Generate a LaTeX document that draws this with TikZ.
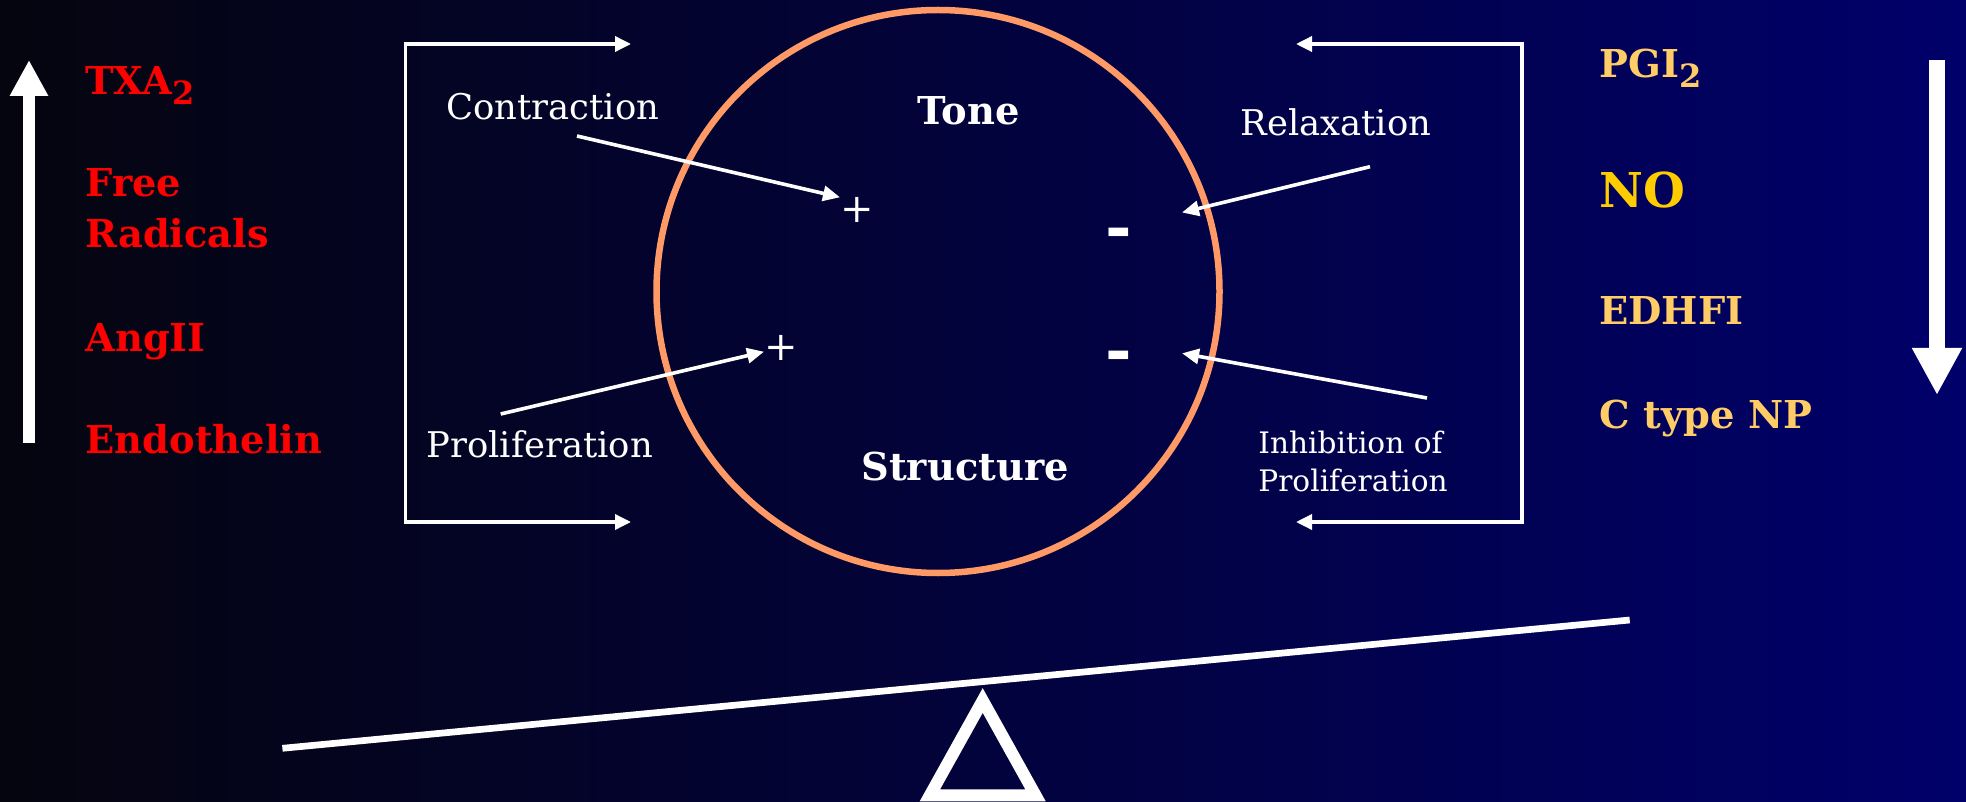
\documentclass[tikz,border=0pt]{standalone}
\usepackage{fontspec}
\setmainfont{DejaVu Serif}
\usetikzlibrary{arrows.meta}
\definecolor{Ink}{HTML}{05050F}
\definecolor{Navy}{HTML}{00006A}
\definecolor{Salmon}{HTML}{FF9966}
\definecolor{Sand}{HTML}{FFCC66}
\definecolor{Amber}{HTML}{FFCC00}
\definecolor{Scarlet}{HTML}{FF0000}
\newcommand{\lowsub}[1]{\raisebox{-5pt}{\fontsize{16pt}{16pt}\selectfont #1}}

\begin{document}
\begin{tikzpicture}[x=0.5pt, y=-0.5pt,
    agent/.style={anchor=base west, inner sep=0pt, align=left, font=\bfseries\fontsize{19.2pt}{25.5pt}\selectfont},
    effect/.style={anchor=base west, inner sep=0pt, text=white, font=\fontsize{17.7pt}{21pt}\selectfont},
    sign/.style={inner sep=0pt, text=white},
    pointer/.style={white, line width=1.8pt, -{Triangle[length=8.5pt,width=7.5pt]}},
    loop/.style={white, line width=1.75pt, {Triangle[length=8pt,width=7.5pt]}-{Triangle[length=8pt,width=7.5pt]}}]
  \shade[left color=Ink, right color=Navy] (0,0) rectangle (1966,802);
  \useasboundingbox (0,0) rectangle (1966,802);

  % left: vasoconstrictors
  \coordinate (upbot) at (29,443);
  \coordinate (uptop) at (29,60);
  \draw[white, line width=6pt, -{Triangle[length=18pt,width=18pt]}] (upbot) -- (uptop);
  \node[agent, text=Scarlet] (txa) at (85,95) {TXA\lowsub{2}};
  \node[agent, text=Scarlet] (frad) at (85,248) {Free\\Radicals};
  \node[agent, text=Scarlet] (ang) at (85,351) {AngII};
  \node[agent, text=Scarlet] (endo) at (85,453) {Endothelin};

  % right: vasodilators
  \coordinate (dntop) at (1937,60);
  \coordinate (dnbot) at (1937,395);
  \draw[white, line width=7.8pt, -{Triangle[length=23.5pt,width=23.5pt]}] (dntop) -- (dnbot);
  \node[agent, text=Sand] (pgi) at (1599,78) {PGI\lowsub{2}};
  \node[agent, text=Amber, font=\bfseries\fontsize{24pt}{28pt}\selectfont] (no) at (1599,208) {NO};
  \node[agent, text=Sand] (edhf) at (1599,325) {EDHFI};
  \node[agent, text=Sand] (cnp) at (1599,429) {C type NP};

  % vessel wall
  \draw[Salmon, line width=3.25pt] (938,291.5) circle[radius=140.75pt];
  \node[agent, text=white] (tone) at (917,125) {Tone};
  \node[agent, text=white] (struct) at (861,480) {Structure};
  \node[sign, font=\fontsize{20pt}{20pt}\selectfont] (plusA) at (857,210) {+};
  \node[sign, font=\fontsize{20pt}{20pt}\selectfont] (plusB) at (781.5,348.3) {+};
  \node[sign, anchor=base, font=\bfseries\fontsize{32pt}{32pt}\selectfont] (minA) at (1119,249.7) {-};
  \node[sign, anchor=base, font=\bfseries\fontsize{32pt}{32pt}\selectfont] (minB) at (1119,372.5) {-};

  % effects
  \node[effect] (contr) at (446,120) {Contraction};
  \node[effect] (prolif) at (426,458) {Proliferation};
  \node[effect] (relax) at (1240,136) {Relaxation};
  \node[effect, align=left, font=\fontsize{14.8pt}{19.35pt}\selectfont] (inhib) at (1258,491.7) {Inhibition of\\Proliferation};
  \coordinate (contrS) at (577,136);
  \coordinate (contrE) at (840,197.3);
  \coordinate (prolifS) at (500.7,414);
  \coordinate (prolifE) at (764,351.7);
  \coordinate (relaxS) at (1370,166.7);
  \coordinate (relaxE) at (1182,212.5);
  \coordinate (inhibS) at (1427,398);
  \coordinate (inhibE) at (1182,353.3);
  \draw[pointer] (contrS) -- (contrE);
  \draw[pointer] (prolifS) -- (prolifE);
  \draw[pointer] (relaxS) -- (relaxE);
  \draw[pointer] (inhibS) -- (inhibE);

  % feedback brackets
  \coordinate (ltop) at (631,44);
  \coordinate (lbot) at (631,522);
  \coordinate (rtop) at (1296,44);
  \coordinate (rbot) at (1296,522);
  \draw[loop] (ltop) -- (405.6,44) |- (lbot);
  \draw[loop] (rtop) -- (1522,44) |- (rbot);

  % balance
  \coordinate (beamL) at (282.4,748.3);
  \coordinate (beamR) at (1629.7,620);
  \draw[white, line width=3.35pt] (beamL) -- (beamR);
  \draw[white, line width=6pt, miter limit=10] (929.9,795.3) -- (982.7,700.5) -- (1035.5,795.3) -- cycle;
\end{tikzpicture}
\end{document}
